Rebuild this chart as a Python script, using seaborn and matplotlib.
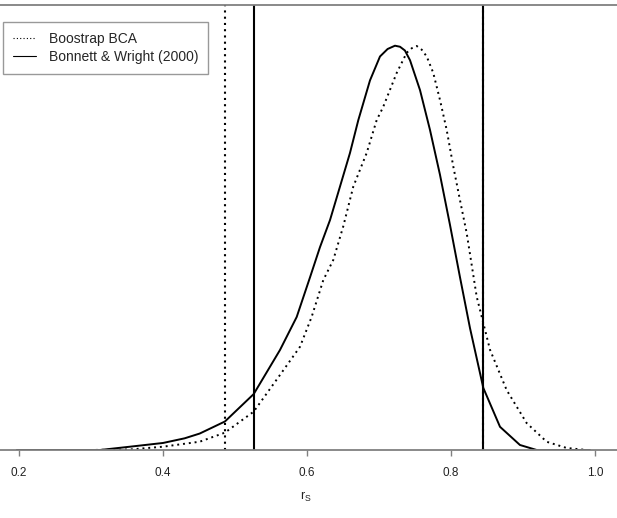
import numpy as np
import pandas as pd
import matplotlib
matplotlib.use('Agg')
import matplotlib.pyplot as plt
import seaborn as sns

sns.set_style('white')
plt.rcParams['font.family'] = ['Liberation Sans', 'DejaVu Sans']

# density of r_s, Bonnett & Wright (2000) interval
bw_x = [0.197, 0.3125, 0.354, 0.400, 0.43, 0.451, 0.486, 0.526, 0.5625, 0.5857, 0.6042,
        0.618, 0.632, 0.6458, 0.6597, 0.6713, 0.6875, 0.7014, 0.712, 0.7222, 0.7292, 0.736,
        0.7431, 0.757, 0.7708, 0.7847, 0.7986, 0.8125, 0.8264, 0.8449, 0.8681, 0.8958,
        0.919, 0.993]
bw_d = [0.0, 0.0, 0.044, 0.094, 0.156, 0.22, 0.381, 0.748, 1.337, 1.778, 2.308,
        2.71, 3.074, 3.52, 3.97, 4.41, 4.94, 5.26, 5.36, 5.404, 5.39, 5.34,
        5.21, 4.81, 4.28, 3.68, 3.01, 2.31, 1.63, 0.83, 0.31, 0.067,
        0.0, 0.0]

# density of r_s, bootstrap BCA
bca_x = [0.2986, 0.354, 0.400, 0.451, 0.486, 0.526, 0.5625, 0.5903, 0.6065, 0.6226,
         0.6365, 0.6504, 0.6643, 0.6829, 0.6968, 0.7056, 0.7246, 0.7385, 0.7455, 0.7524,
         0.7594, 0.7663, 0.7754, 0.7847, 0.794, 0.8032, 0.8125, 0.8218, 0.8357, 0.8542,
         0.8774, 0.9051, 0.9329, 0.9607, 0.9885]
bca_d = [0.0, 0.007, 0.044, 0.111, 0.232, 0.513, 1.003, 1.38, 1.78, 2.27,
         2.54, 2.99, 3.52, 3.97, 4.41, 4.58, 5.04, 5.31, 5.37, 5.40,
         5.35, 5.26, 5.04, 4.68, 4.28, 3.79, 3.34, 2.90, 2.05, 1.34,
         0.80, 0.36, 0.11, 0.027, 0.0]

# confidence limits
bca_ci = [0.486, 0.844]
bw_ci = [0.526, 0.845]

df_bw = pd.DataFrame({'r': bw_x, 'density': bw_d})
df_bca = pd.DataFrame({'r': bca_x, 'density': bca_d})

fig = plt.figure(figsize=(6.17, 5.18), dpi=100)
ax = fig.add_axes([0, 68/518, 1, 445/518])

dot = (0, (1, 2))
sns.lineplot(data=df_bca, x='r', y='density', ax=ax, color='black', lw=1.4,
             linestyle=dot, label='Boostrap BCA', sort=False)
sns.lineplot(data=df_bw, x='r', y='density', ax=ax, color='black', lw=1.4,
             label='Bonnett & Wright (2000)', sort=False,
             solid_joinstyle='round', solid_capstyle='round')

for v in bca_ci:
    ax.axvline(v, color='black', lw=1.5, linestyle=dot)
for v in bw_ci:
    ax.axvline(v, color='black', lw=1.5)

ax.set_xlim(0.1736, 1.0306)
ax.set_ylim(0, 5.948)
ax.set_xticks([0.2, 0.4, 0.6, 0.8, 1.0])
ax.set_xticklabels(['0.2', '0.4', '0.6', '0.8', '1.0'])
ax.set_yticks([])
ax.set_xlabel('')
ax.set_ylabel('')
for s in ['left', 'right']:
    ax.spines[s].set_visible(False)
for s in ['top', 'bottom']:
    ax.spines[s].set_color('#808080')
    ax.spines[s].set_linewidth(1.3)
ax.tick_params(axis='x', direction='out', length=4, width=1, color='#808080',
               pad=8, labelsize=8.5, labelcolor='#222222', bottom=True)

fig.text(306/617, 1-497/518, r'$\mathregular{r_S}$', ha='center', va='center',
         fontsize=9, color='#222222')

leg = ax.legend(loc='upper left', bbox_to_anchor=(3/617, 1-22/518),
                bbox_transform=fig.transFigure, fontsize=10, frameon=True,
                fancybox=False, edgecolor='#808080', borderpad=0.7,
                handlelength=1.65, handletextpad=0.95, labelspacing=0.3,
                borderaxespad=0)
leg.get_frame().set_linewidth(1.0)
for h in leg.get_lines():
    h.set_linewidth(0.8)

fig.savefig('out.png', dpi=100)
